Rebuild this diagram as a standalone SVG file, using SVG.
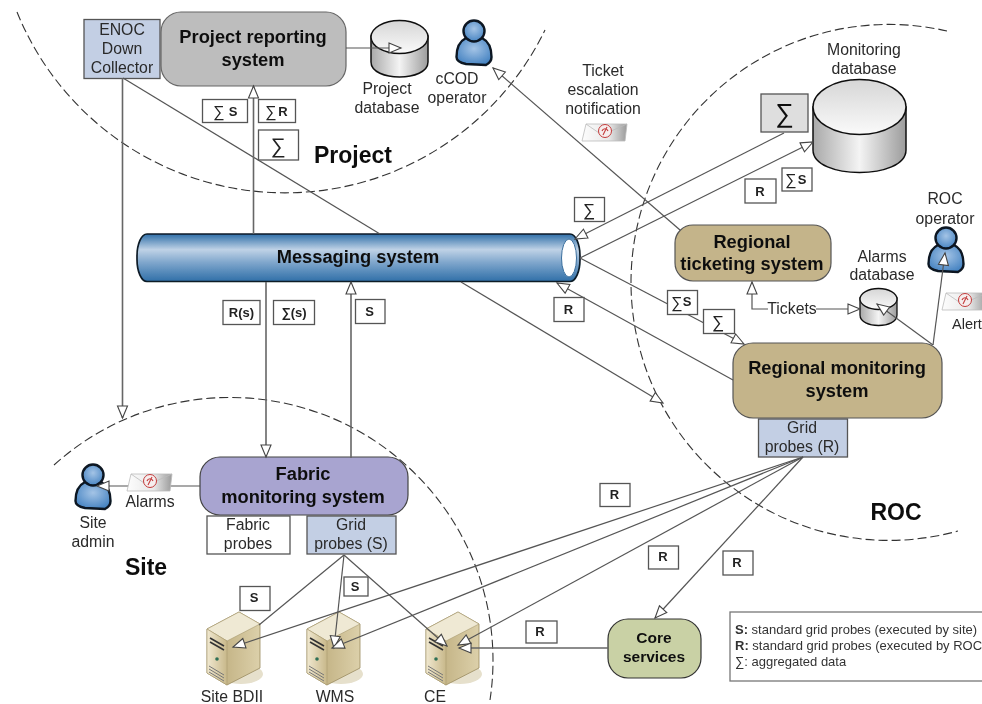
<svg xmlns="http://www.w3.org/2000/svg" width="982" height="704" viewBox="0 0 982 704">
<style>
text{font-family:"Liberation Sans",Arial,sans-serif;fill:#2a2a2a;text-anchor:middle}
.t{font-size:15.800px}
.b{font-weight:bold;fill:#111;font-size:18.300px}
.h{font-weight:bold;fill:#111;font-size:23px}
.lb{fill:#fff;stroke:#555;stroke-width:1.300}
.lt{font-size:13px;font-weight:bold;fill:#222}
.sg{font-size:16px;fill:#222}
.arc{fill:none;stroke:#333;stroke-width:1.100;stroke-dasharray:9 4}
.c{fill:none;stroke:#555;stroke-width:1.200}
.c2{fill:none;stroke:#666;stroke-width:1.600}
.a{marker-end:url(#ah)}
.leg{font-size:13px;text-anchor:start;fill:#333}
</style>
<defs>
<filter id="soft" x="0" y="0" width="100%" height="100%" filterUnits="userSpaceOnUse" primitiveUnits="userSpaceOnUse"><feGaussianBlur stdDeviation="0.45"/></filter>
<marker id="ah" markerUnits="userSpaceOnUse" markerWidth="15" markerHeight="13" refX="13" refY="6" orient="auto" viewBox="0 0 15 12">
<path d="M1,1 L13,6 L1,11 Z" fill="#fff" stroke="#444" stroke-width="1.100"/>
</marker>
<linearGradient id="tube" x1="0" y1="0" x2="0" y2="1">
<stop offset="0" stop-color="#2f6fa8"/><stop offset=".33" stop-color="#bfd2e6"/><stop offset=".6" stop-color="#7fa6cc"/><stop offset="1" stop-color="#2f6fa8"/>
</linearGradient>
<linearGradient id="cyl" x1="0" y1="0" x2="1" y2="0">
<stop offset="0" stop-color="#a9a9a9"/><stop offset=".5" stop-color="#f4f4f4"/><stop offset="1" stop-color="#9c9c9c"/>
</linearGradient>
<linearGradient id="cylt" x1="0" y1="0" x2="0" y2="1">
<stop offset="0" stop-color="#d6d6d6"/><stop offset="1" stop-color="#fafafa"/>
</linearGradient>
<radialGradient id="blue" cx=".5" cy=".4" r=".7">
<stop offset="0" stop-color="#a4c4e6"/><stop offset="1" stop-color="#3a7bbd"/>
</radialGradient>
<linearGradient id="env" x1="0" y1="0" x2="1" y2="0">
<stop offset="0" stop-color="#fdfdfd"/><stop offset=".6" stop-color="#e8e8e8"/><stop offset="1" stop-color="#9a9a9a"/>
</linearGradient>
<linearGradient id="srv" x1="0" y1="0" x2="1" y2="0">
<stop offset="0" stop-color="#f0e8d0"/><stop offset="1" stop-color="#c8b88a"/>
</linearGradient>
<linearGradient id="srv2" x1="0" y1="0" x2="1" y2="0">
<stop offset="0" stop-color="#b8a674"/><stop offset="1" stop-color="#dcd0aa"/>
</linearGradient>
<symbol id="person" overflow="visible" viewBox="0 0 36 46" width="36" height="46">
<path d="M10,18 C4,21 0.500,28 0.500,37 C0.500,41 5,43 10,44 L30,45 C34,43 35.500,41 35.500,37 C35.500,28 32,21 26,18 Z" fill="url(#blue)" stroke="#0a1520" stroke-width="2.400"/>
<ellipse cx="18" cy="11" rx="10.500" ry="10.500" fill="url(#blue)" stroke="#0a1520" stroke-width="2.400"/>
</symbol>
<symbol id="mail" overflow="visible" viewBox="0 0 45 19" width="45" height="19">
<path d="M4,1 L45,1 L43,18 L0,18 Z" fill="url(#env)" stroke="#bbb" stroke-width=".8"/>
<path d="M4,1 L20,12 L45,1" fill="none" stroke="#bbb" stroke-width=".8"/>
<circle cx="23" cy="8" r="6.500" fill="#f6eeee" stroke="#c43c3c" stroke-width="1"/>
<path d="M25,4 L21,12 M20,8 C21,5 25,5 26,8" fill="none" stroke="#c43c3c" stroke-width="1.100"/>
</symbol>
<symbol id="server" overflow="visible" viewBox="0 0 58 74" width="58" height="74">
<ellipse cx="34" cy="62" rx="22" ry="10" fill="#e6e0cc"/>
<path d="M0,17 L32,0 L53,12 L53,56 L20,73 L0,61 Z" fill="url(#srv2)" stroke="#998a5e" stroke-width=".8"/>
<path d="M0,17 L32,0 L53,12 L20,29 Z" fill="#efe9d4" stroke="#a89a70" stroke-width=".6"/>
<path d="M0,17 L20,29 L20,73 L0,61 Z" fill="url(#srv)" stroke="#a89a70" stroke-width=".6"/>
<path d="M3,26 L17,34 M3,30 L17,38" stroke="#333" stroke-width="1.600"/>
<circle cx="10" cy="47" r="1.800" fill="#2f6f55"/>
<path d="M2,54 L17,63 M2,57 L17,66 M2,60 L17,69" stroke="#777" stroke-width="1"/>
</symbol>
</defs>
<rect width="982" height="704" fill="#fff"/>
<g filter="url(#soft)">
<g id="regions">
<path class="arc" d="M17,12 A289,289 0 0 0 545,30"/>
<path class="arc" d="M947,31 A258,258 0 1 0 958,531"/>
<path class="arc" d="M54,465 A263,263 0 0 1 490,700"/>
</g>

<g id="messaging"><rect x="137" y="234" width="443" height="47.500" rx="10" ry="22" fill="url(#tube)" stroke="#0c1a26" stroke-width="1.700"/><ellipse cx="569" cy="258" rx="7.500" ry="19" fill="#fff" stroke="#3a6f9e" stroke-width="1"/><text class="b" x="358" y="263">Messaging system</text></g>
<g id="enoc"><rect x="84" y="19.500" width="76" height="59" fill="#c3cfe4" stroke="#555" stroke-width="1.300"/><text class="t" x="122" y="35">ENOC</text><text class="t" x="122" y="54">Down</text><text class="t" x="122" y="73">Collector</text></g>
<g id="project-reporting"><rect x="161" y="12" width="185" height="74" rx="20" fill="#bdbdbd" stroke="#666" stroke-width="1.200"/><text class="b" x="253" y="43">Project reporting</text><text class="b" x="253" y="66">system</text></g>
<g id="project-db"><path d="M371,36 V62 C371,82 428,82 428,62 V36 Z" fill="url(#cyl)" stroke="#111" stroke-width="1.500"/><ellipse cx="399.500" cy="37" rx="28.500" ry="16.500" fill="url(#cylt)" stroke="#111" stroke-width="1.500"/><text class="t" x="387" y="94">Project</text><text class="t" x="387" y="113">database</text></g>
<g id="ccod"><use href="#person" x="456" y="20"/><text class="t" x="457" y="84">cCOD</text><text class="t" x="457" y="103">operator</text></g>
<g id="monitoring-db"><path d="M813,107 V150 C813,180 906,180 906,150 V107 Z" fill="url(#cyl)" stroke="#111" stroke-width="1.500"/><ellipse cx="859.500" cy="107" rx="46.500" ry="27.500" fill="url(#cylt)" stroke="#111" stroke-width="1.500"/><text class="t" x="864" y="55">Monitoring</text><text class="t" x="864" y="74">database</text></g>
<g id="sum-box"><rect x="761" y="94" width="47" height="38" fill="#dedede" stroke="#555" stroke-width="1.300"/><text x="784.500" y="122" style="font-size:26px;fill:#111">∑</text></g>
<g id="regional-ticketing"><rect x="675" y="225" width="156" height="56" rx="18" fill="#c4b48a" stroke="#555" stroke-width="1.200"/><text class="b" x="752" y="248">Regional</text><text class="b" x="752" y="270">ticketing system</text></g>
<g id="alarms-db"><path d="M860,298 V315 C860,329 897,329 897,315 V298 Z" fill="url(#cyl)" stroke="#111" stroke-width="1.300"/><ellipse cx="878.500" cy="299" rx="18.500" ry="10.500" fill="url(#cylt)" stroke="#111" stroke-width="1.300"/><text class="t" x="882" y="262">Alarms</text><text class="t" x="882" y="280">database</text></g>
<g id="tickets-label"><text class="t" x="792" y="314">Tickets</text></g>
<g id="roc-operator"><use href="#person" x="928" y="227"/><text class="t" x="945" y="204">ROC</text><text class="t" x="945" y="224">operator</text></g>
<g id="regional-monitoring"><rect x="733" y="343" width="209" height="75" rx="20" fill="#c4b48a" stroke="#555" stroke-width="1.200"/><text class="b" x="837" y="374">Regional monitoring</text><text class="b" x="837" y="397">system</text></g>
<g id="grid-probes-r"><rect x="758.500" y="419" width="89" height="38" fill="#c3cfe4" stroke="#555" stroke-width="1.300"/><text class="t" x="802" y="433">Grid</text><text class="t" x="802" y="452">probes (R)</text></g>
<g id="fabric-monitoring"><rect x="200" y="457" width="208" height="58" rx="20" fill="#a8a4d0" stroke="#444" stroke-width="1.200"/><text class="b" x="303" y="480">Fabric</text><text class="b" x="303" y="503">monitoring system</text></g>
<g id="fabric-probes"><rect x="207" y="516" width="83" height="38" fill="#fff" stroke="#555" stroke-width="1.300"/><text class="t" x="248" y="530">Fabric</text><text class="t" x="248" y="549">probes</text></g>
<g id="grid-probes-s"><rect x="307" y="516" width="89" height="38" fill="#c3cfe4" stroke="#555" stroke-width="1.300"/><text class="t" x="351" y="530">Grid</text><text class="t" x="351" y="549">probes (S)</text></g>
<g id="site-admin"><use href="#person" x="75" y="464"/><text class="t" x="93" y="528">Site</text><text class="t" x="93" y="547">admin</text></g>
<g id="site-bdii"><use href="#server" x="207" y="612"/><text class="t" x="232" y="702">Site BDII</text></g>
<g id="wms"><use href="#server" x="307" y="612"/><text class="t" x="335" y="702">WMS</text></g>
<g id="ce"><use href="#server" x="426" y="612"/><text class="t" x="435" y="702">CE</text></g>
<g id="core-services"><rect x="608" y="619" width="93" height="59" rx="20" fill="#c9d1a5" stroke="#333" stroke-width="1.200"/><text class="b" x="654" y="643" style="font-size:15.500px">Core</text><text class="b" x="654" y="662" style="font-size:15.500px">services</text></g>

<g id="connectors">
<path class="c2 a" d="M122.500,78 V418"/>
<path class="c" d="M123,78 L380,234"/>
<path class="c a" d="M461,282 L663,403"/>
<path class="c2 a" d="M253.500,234 V86"/>
<path class="c2 a" d="M266,282 V457"/>
<path class="c2 a" d="M351,458 V282"/>
<path class="c a" d="M346,48 H401"/>
<path class="c a" d="M680,230 L493,68"/>
<path class="c a" d="M784,133 L575,239"/>
<path class="c a" d="M580,258 L813,142"/>
<path class="c a" d="M580,258 L744,344"/>
<path class="c a" d="M733,380 L557,283"/>
<path class="c a" d="M768,309 H752 V282"/>
<path class="c a" d="M816,309 H860"/>
<path class="c a" d="M933,345 L877,304"/>
<path class="c a" d="M933,345 L945,253"/>
<path class="c a" d="M200,486 H97"/>
<path class="c" d="M344,555 L259,625"/>
<path class="c a" d="M344,555 L334,648"/>
<path class="c a" d="M344,555 L447,646"/>
<path class="c a" d="M803,457 L233,647"/>
<path class="c a" d="M803,457 L332,648"/>
<path class="c a" d="M803,457 L458,645"/>
<path class="c a" d="M803,457 L655,618"/>
<path class="c2 a" d="M608,648 H459"/>
</g>

<g id="ticket-note"><text class="t" x="603" y="76">Ticket</text><text class="t" x="603" y="95">escalation</text><text class="t" x="603" y="114">notification</text><use href="#mail" x="582" y="123"/></g>
<g id="alert"><use href="#mail" x="942" y="292"/><text class="t" x="952" y="329" style="text-anchor:start;font-size:14.500px">Alert</text></g>
<g id="alarms-note"><use href="#mail" x="127" y="473"/><text class="t" x="150" y="507">Alarms</text></g>

<g id="labels">
<rect class="lb" x="202.500" y="99.500" width="45" height="23"/><text class="sg" x="219" y="117">∑</text><text class="lt" x="233" y="116">S</text>
<rect class="lb" x="258.500" y="99.500" width="37" height="23"/><text class="sg" x="271" y="117">∑</text><text class="lt" x="283" y="116">R</text>
<rect class="lb" x="258.500" y="130" width="40" height="30"/><text class="sg" x="278" y="153" style="font-size:21px">∑</text>
<rect class="lb" x="223" y="300.500" width="37" height="24"/><text class="lt" x="241.500" y="317">R(s)</text>
<rect class="lb" x="273.500" y="300.500" width="41" height="24"/><text class="lt" x="294" y="317">∑(s)</text>
<rect class="lb" x="355.500" y="299.500" width="29.500" height="24"/><text class="lt" x="369.500" y="316">S</text>
<rect class="lb" x="574.500" y="197.500" width="30" height="24"/><text class="sg" x="589" y="216" style="font-size:17px">∑</text>
<rect class="lb" x="745" y="179" width="31" height="24"/><text class="lt" x="760" y="196">R</text>
<rect class="lb" x="782" y="168" width="30" height="23"/><text class="sg" x="791" y="185">∑</text><text class="lt" x="802" y="184">S</text>
<rect class="lb" x="667.500" y="290.500" width="30" height="24"/><text class="sg" x="677" y="308">∑</text><text class="lt" x="687" y="306">S</text>
<rect class="lb" x="703.500" y="309.500" width="31" height="24"/><text class="sg" x="718" y="328" style="font-size:17px">∑</text>
<rect class="lb" x="554" y="297.500" width="30" height="24"/><text class="lt" x="568.500" y="314">R</text>
<rect class="lb" x="240" y="586.500" width="30" height="24"/><text class="lt" x="254" y="602">S</text>
<rect class="lb" x="344" y="577" width="24" height="19"/><text class="lt" x="355" y="591">S</text>
<rect class="lb" x="600" y="483.500" width="30" height="23"/><text class="lt" x="614.500" y="499">R</text>
<rect class="lb" x="648.500" y="546" width="30" height="23"/><text class="lt" x="663" y="561">R</text>
<rect class="lb" x="723" y="551" width="30" height="24"/><text class="lt" x="737" y="567">R</text>
<rect class="lb" x="526" y="621" width="31" height="22"/><text class="lt" x="540" y="636">R</text>
</g>

<g id="region-names">
<text class="h" x="353" y="163">Project</text>
<text class="h" x="146" y="575">Site</text>
<text class="h" x="896" y="520">ROC</text>
</g>

<g id="legend">
<rect x="730" y="612" width="260" height="69" fill="#fff" stroke="#777" stroke-width="1.300"/>
<text class="leg" x="735" y="634"><tspan font-weight="bold">S:</tspan> standard grid probes (executed by site)</text>
<text class="leg" x="735" y="650"><tspan font-weight="bold">R:</tspan> standard grid probes (executed by ROC</text>
<text class="leg" x="735" y="666">∑: aggregated data</text>
</g>
</g>
</svg>
